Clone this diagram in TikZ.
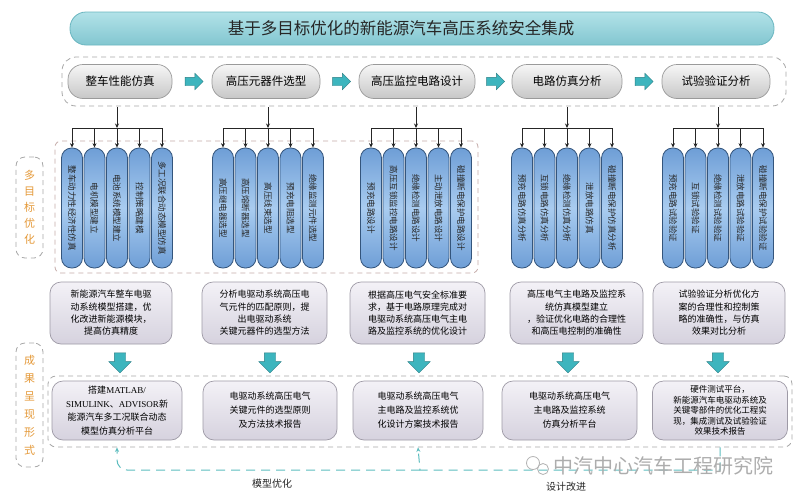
\documentclass[tikz,border=0pt]{standalone}
\usepackage{fontspec}
\setmainfont{Liberation Serif}
\newfontfamily\cjk{Noto Sans CJK SC}
\usetikzlibrary{shapes.arrows,arrows.meta,calc}
\definecolor{pillside}{HTML}{6E9ED6}
\definecolor{pillmid}{HTML}{A9CCF0}
\definecolor{pilledge}{HTML}{34557C}
\definecolor{titletop}{HTML}{B2E2E8}
\definecolor{titlebot}{HTML}{82C6D0}
\definecolor{titleedge}{HTML}{6AB6C0}
\definecolor{procfill}{HTML}{E2E2E2}
\definecolor{procedge}{HTML}{9A9A9A}
\definecolor{arrteal}{HTML}{3DB5BE}
\definecolor{descfill}{HTML}{E1DDEA}
\definecolor{descedge}{HTML}{9E9AA6}
\definecolor{lblorange}{HTML}{E59A3A}
\definecolor{dashgray}{HTML}{A8A8A8}
\definecolor{dashpink}{HTML}{C4AAA8}
\definecolor{loopteal}{HTML}{5DBDBF}
\begin{document}
\begin{tikzpicture}[x=1pt,y=-1pt,font=\cjk,
  titlebar/.style={draw=titleedge,line width=0.8pt,rounded corners=16pt,top color=titletop,bottom color=titlebot,minimum width=704pt,minimum height=33pt},
  titletext/.style={font=\cjk\fontsize{16.5}{16.5}\selectfont,text=black!85},
  proc/.style={draw=procedge,line width=0.7pt,rounded corners=15pt,top color=procfill!30!white,bottom color=procfill!88!black,minimum height=34pt,font=\cjk\fontsize{11.5}{12}\selectfont},
  col/.style={draw=pilledge,line width=0.8pt,rotate=-90,rounded corners=10pt,top color=pillside,bottom color=pillside,middle color=pillmid,minimum width=120pt,minimum height=21pt,inner sep=1pt,font=\cjk\fontsize{8.5}{9}\selectfont,text=black!85},
  desc/.style={draw=descedge,line width=0.7pt,rounded corners=11pt,top color=descfill!40!white,bottom color=descfill!95!black,align=center,inner sep=1pt,font=\cjk\fontsize{9}{12.3}\selectfont},
  dbox/.style={draw=dashgray,line width=0.8pt,dash pattern=on 5pt off 4pt,rounded corners=10pt},
  side/.style={draw=dashgray,line width=0.8pt,dash pattern=on 5pt off 4pt,rounded corners=9pt,minimum width=27pt,align=center,text=lblorange,font=\cjk\fontsize{11}{16}\selectfont},
  rarrow/.style={single arrow,draw=arrteal!70!black,fill=arrteal,minimum height=18pt,inner sep=4pt,single arrow head extend=4pt},
  darrow/.style={single arrow,draw=arrteal!70!black,fill=arrteal,rotate=-90,minimum height=20pt,inner sep=5.5pt,single arrow head extend=5.5pt},
  tree/.style={line width=0.7pt,draw=black!85},
  tip/.style={-{Stealth[length=4.5pt,width=4pt]}},
  loopline/.style={draw=loopteal,line width=1pt,dash pattern=on 9pt off 6pt},
  lbl/.style={font=\cjk\fontsize{10}{10}\selectfont,text=black!85}]
\useasboundingbox[fill=white] (0,0) rectangle (800,501);

% dashed frames
\node[dbox,rounded corners=14pt,minimum width=724pt,minimum height=49pt] (procbox) at (424,81.5) {};
\node[dbox,draw=dashpink,rounded corners=6pt,minimum width=423pt,minimum height=132pt] (grpbox) at (266.5,207) {};
\node[dbox,rounded corners=8pt,minimum width=744pt,minimum height=71pt] (botbox) at (420,411.5) {};

% side labels
\node[side,minimum height=101pt] (s1) at (29.5,207.5) {多\\目\\标\\优\\化};
\node[side,minimum height=124pt,font=\cjk\fontsize{11}{18}\selectfont] (s2) at (29.5,405) {成\\果\\呈\\现\\形\\式};

% title
\node[titlebar] (bar) at (422,28.5) {};
\node[titletext] (title) at (401,28.5) {基于多目标优化的新能源汽车高压系统安全集成};

% process row
\node[proc,minimum width=104pt] (p1) at (120,81.5) {整车性能仿真};
\node[proc,minimum width=108pt] (p2) at (266,81.5) {高压元器件选型};
\node[proc,minimum width=116pt] (p3) at (417,81.5) {高压监控电路设计};
\node[proc,minimum width=110pt] (p4) at (567,81.5) {电路仿真分析};
\node[proc,minimum width=108pt] (p5) at (716,81.5) {试验验证分析};
\foreach \a/\b in {1/2,2/3,3/4,4/5}
  \node[rarrow] (ra\a) at ($(p\a.east)!0.5!(p\b.west)$) {};

% columns
\foreach \g/\r/\ta/\tb/\tc/\td/\te in {
  1/117/整车动力性经济性仿真/电机模型建立/电池系统模型建立/控制策略建模/多工况联合动态模型仿真,
  2/268/高压继电器选型/高压熔断器选型/高压线束选型/预充电阻选型/绝缘监测元件选型,
  3/416/预充电路设计/高压互锁监控电路设计/绝缘检测电路设计/主动泄放电路设计/碰撞断电保护电路设计,
  4/567/预充电路仿真分析/互锁电路仿真分析/绝缘检测仿真分析/泄放电路仿真/碰撞断电保护仿真分析,
  5/718/预充电路试验验证/互锁试验验证/绝缘检测试验验证/泄放电路试验验证/碰撞断电保护试验验证}{
  \node[col] (c\g1) at (\r-45,208) {\ta};
  \node[col] (c\g2) at (\r-22.5,208) {\tb};
  \node[col] (c\g3) at (\r,208) {\tc};
  \node[col] (c\g4) at (\r+22.5,208) {\td};
  \node[col] (c\g5) at (\r+45,208) {\te};
  \coordinate (top\g) at (\r,107);
  \coordinate (bus\g) at (\r,128);
  \draw[tree,tip] (top\g) -- (bus\g);
  \draw[tree] (c\g1.west |- bus\g) -- (c\g5.west |- bus\g);
  \foreach \i in {1,...,5}
    \draw[tree,tip] (c\g\i.west |- bus\g) -- (c\g\i.west);
}

% description boxes
\node[desc,minimum width=122pt,minimum height=62pt] (d1) at (111,313) {新能源汽车整车电驱\\动系统模型搭建，优\\化改进新能源模块，\\提高仿真精度};
\node[desc,minimum width=125pt,minimum height=62pt] (d2) at (264.5,313) {分析电驱动系统高压电\\气元件的匹配原则，提\\出电驱动系统\\关键元器件的选型方法};
\node[desc,minimum width=135pt,minimum height=62pt] (d3) at (417.5,313) {根据高压电气安全标准要\\求，基于电路原理完成对\\电驱动系统高压电气主电\\路及监控系统的优化设计};
\node[desc,minimum width=133pt,minimum height=62pt] (d4) at (576.5,313) {高压电气主电路及监控系\\统仿真模型建立\\，验证优化电路的合理性\\和高压电控制的准确性};
\node[desc,minimum width=132pt,minimum height=62pt] (d5) at (719,313) {试验验证分析优化方\\案的合理性和控制策\\略的准确性，与仿真\\效果对比分析};

% down arrows
\foreach \i/\x in {1/120,2/270,3/419,4/568,5/718}
  \node[darrow] (da\i) at (\x,360) {};

% result boxes
\node[desc,minimum width=130pt,minimum height=59pt,font=\cjk\fontsize{9}{13.5}\selectfont] (b1) at (117,410.5) {搭建{\rmfamily MATLAB/}\\{\rmfamily SIMULINK}、{\rmfamily ADVISOR}新\\能源汽车多工况联合动态\\模型仿真分析平台};
\node[desc,minimum width=134pt,minimum height=59pt,font=\cjk\fontsize{9}{14}\selectfont] (b2) at (270,410.5) {电驱动系统高压电气\\关键元件的选型原则\\及方法技术报告};
\node[desc,minimum width=130pt,minimum height=59pt,font=\cjk\fontsize{9}{14}\selectfont] (b3) at (418,410.5) {电驱动系统高压电气\\主电路及监控系统优\\化设计方案技术报告};
\node[desc,minimum width=135pt,minimum height=59pt,font=\cjk\fontsize{9}{14}\selectfont] (b4) at (569.5,410.5) {电驱动系统高压电气\\主电路及监控系统\\仿真分析平台};
\node[desc,minimum width=135pt,minimum height=59pt,font=\cjk\fontsize{8.5}{10.6}\selectfont] (b5) at (720,410.5) {硬件测试平台，\\新能源汽车电驱动系统及\\关键零部件的优化工程实\\现，集成测试及试验验证\\效果技术报告};

% feedback loops
\coordinate (j) at (420,470);
\draw[loopline,tip] (b5.south |- botbox.south) -- (b5.south |- j) -- (j) -- (b3.south |- botbox.south);
\draw[loopline,tip,rounded corners=10pt] (j) -| (b1.south |- botbox.south);
\node[lbl] (m1) at (272,484) {模型优化};
\node[lbl] (m2) at (566,487) {设计改进};

% watermark
\node[circle,draw=black!30,line width=0.8pt,minimum size=13pt,inner sep=0pt] (w1) at (533,463) {};
\node[circle,draw=black!30,line width=0.8pt,minimum size=11pt,inner sep=0pt] (w2) at (543,469) {};
\node[anchor=west,text=black!32,font=\cjk\fontsize{20}{20}\selectfont,inner sep=0pt] (wm) at (553,466) {中汽中心汽车工程研究院};
\end{tikzpicture}
\end{document}
